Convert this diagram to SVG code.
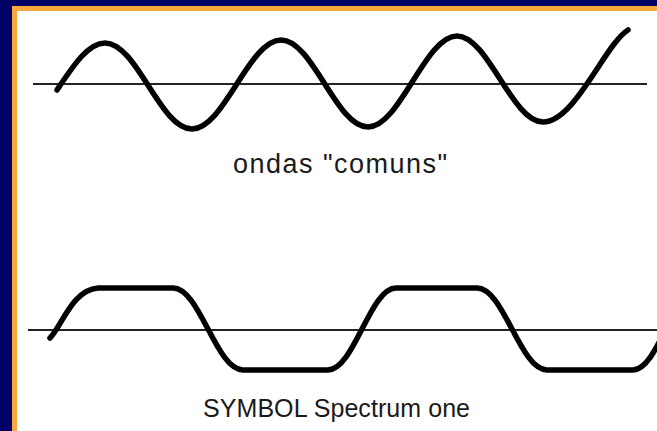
<svg xmlns="http://www.w3.org/2000/svg" width="657" height="431" viewBox="0 0 657 431">
  <style>
    .axis { stroke: #222; stroke-width: 2; fill: none; }
    .wave { stroke: #000; stroke-width: 5.5; fill: none; stroke-linecap: round; stroke-linejoin: round; }
    .label { font-family: "Liberation Sans", Arial, sans-serif; font-size: 25px; fill: #1a1a1a; }
    .big { font-size: 27px; }
  </style>
  <rect x="0" y="0" width="657" height="431" fill="#000066"/>
  <rect x="12" y="6" width="645" height="425" fill="#FBA73B"/>
  <rect x="17" y="11" width="640" height="420" fill="#ffffff"/>

  <g id="wave-common">
    <line class="axis" x1="33" y1="84" x2="647" y2="84"/>
    <path class="wave" d="M 57 90 C 73 66, 88 43, 105 43 C 137 43, 160 129, 192 129 C 224 129, 249 40, 281 40 C 313 40, 336 127, 368 127 C 400 127, 425 36, 457 36 C 488 36, 512 122, 543 122 C 575 122, 605 44, 628 30"/>
    <text class="label big" x="233" y="173" textLength="214" lengthAdjust="spacing">ondas "comuns"</text>
  </g>

  <g id="wave-symbol">
    <line class="axis" x1="28" y1="330" x2="657" y2="330"/>
    <path class="wave" d="M 50 338 C 62 326, 72 290, 98 288 L 173 288 C 200 288, 216 370, 243 370 L 328 370 C 354 370, 370 288, 396 288 L 477 288 C 504 288, 520 370, 547 370 L 633 370 C 658 370, 674 288, 700 288"/>
    <text class="label" x="203" y="417" textLength="267" lengthAdjust="spacing">SYMBOL Spectrum one</text>
  </g>
</svg>
